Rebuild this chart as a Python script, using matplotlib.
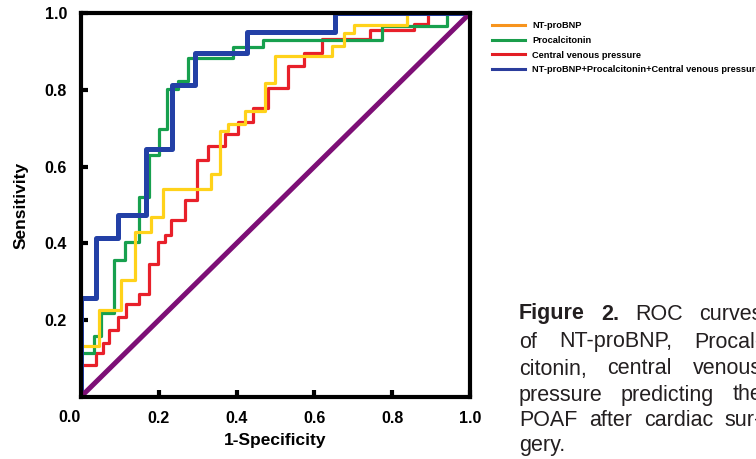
import matplotlib
matplotlib.use("Agg")
import matplotlib.pyplot as plt
from matplotlib.lines import Line2D

plt.rcParams['font.family'] = ['Liberation Sans', 'DejaVu Sans']

# ROC points (fpr, tpr after each step)
nt_fpr = [0, 0, 0.047, 0.103, 0.138, 0.181, 0.211, 0.335, 0.357, 0.378, 0.421, 0.473, 0.499, 0.645, 0.675, 0.701, 0.839, 1.0]
nt_tpr = [0, 0.133, 0.226, 0.304, 0.429, 0.468, 0.542, 0.581, 0.694, 0.710, 0.745, 0.819, 0.888, 0.914, 0.949, 0.970, 1.0, 1.0]

pct_fpr = [0, 0, 0.033, 0.052, 0.086, 0.112, 0.150, 0.176, 0.200, 0.222, 0.249, 0.275, 0.391, 0.469, 0.774, 0.942, 1.0]
pct_tpr = [0, 0.113, 0.157, 0.217, 0.356, 0.403, 0.520, 0.629, 0.698, 0.802, 0.823, 0.884, 0.912, 0.929, 0.966, 1.0, 1.0]

cvp_fpr = [0, 0, 0.039, 0.056, 0.073, 0.095, 0.116, 0.150, 0.176, 0.198, 0.215, 0.232, 0.267, 0.297, 0.327, 0.370,
           0.404, 0.443, 0.482, 0.531, 0.572, 0.619, 0.744, 0.856, 0.893, 1.0]
cvp_tpr = [0, 0.083, 0.113, 0.139, 0.174, 0.208, 0.243, 0.269, 0.347, 0.403, 0.421, 0.460, 0.512, 0.616, 0.655, 0.685,
           0.715, 0.754, 0.806, 0.862, 0.897, 0.934, 0.955, 0.972, 1.0, 1.0]

comb_fpr = [0, 0, 0.039, 0.095, 0.168, 0.234, 0.292, 0.426, 0.652, 1.0]
comb_tpr = [0, 0.257, 0.415, 0.475, 0.647, 0.813, 0.897, 0.951, 1.0, 1.0]

labels = ['NT-proBNP', 'Procalcitonin', 'Central venous pressure',
          'NT-proBNP+Procalcitonin+Central venous pressure']
legend_colors = ['#f7941d', '#1a9d4b', '#e31e24', '#2b3d9c']
ticks = [0.2, 0.4, 0.6, 0.8, 1.0]

caption = [
    [('Figure', 'bold'), ('2.', 'bold'), ('ROC', 'normal'), ('curves', 'normal')],
    [('of', 'normal'), ('NT-proBNP,', 'normal'), ('Procal-', 'normal')],
    [('citonin,', 'normal'), ('central', 'normal'), ('venous', 'normal')],
    [('pressure', 'normal'), ('predicting', 'normal'), ('the', 'normal')],
    [('POAF', 'normal'), ('after', 'normal'), ('cardiac', 'normal'), ('sur-', 'normal')],
    [('gery.', 'normal')],
]

fig = plt.figure(figsize=(7.56, 4.59), dpi=100)
ax = fig.add_axes([81/756, 1-396.7/459, 389/756, 383.5/459])

ax.step(cvp_fpr, cvp_tpr, where='post', color='#e8202a', lw=2.3)
ax.step(pct_fpr, pct_tpr, where='post', color='#17a04e', lw=2.3)
ax.step(nt_fpr, nt_tpr, where='post', color='#ffd21a', lw=2.3)
ax.step(comb_fpr, comb_tpr, where='post', color='#2340a6', lw=3.6)
ax.plot([0, 1], [0, 1], color='#7d0f76', lw=3.6, solid_capstyle='butt')

ax.set_xlim(0, 1)
ax.set_ylim(0, 1)
for s in ax.spines.values():
    s.set_linewidth(3)
ax.set_xticks(ticks)
ax.set_yticks(ticks)
ax.set_xticklabels([f'{t:.1f}' for t in ticks], fontweight='bold', fontsize=11.5)
ax.set_yticklabels([f'{t:.1f}' for t in ticks], fontweight='bold', fontsize=11.5)
ax.tick_params(axis='both', direction='in', length=5, width=3)
ax.tick_params(axis='x', pad=10)
ax.tick_params(axis='y', pad=10)
ax.annotate('0.0', xy=(0, 0), xytext=(-8.5, -15), textcoords='offset points',
            ha='center', va='center', fontsize=11.5, fontweight='bold')

ax.set_xlabel('1-Specificity', fontsize=12.5, fontweight='bold')
ax.set_ylabel('Sensitivity', fontsize=12.5, fontweight='bold')
ax.xaxis.set_label_coords(0.5, -0.095)
ax.yaxis.set_label_coords(-0.135, 0.5)

handles = [Line2D([], [], color=c, lw=2.2) for c in legend_colors]
fig.legend(handles, labels, loc='upper left', bbox_to_anchor=(492/756, 1-21/459),
           frameon=False, prop={'size': 6.7, 'weight': 'bold'}, handlelength=3.5,
           handletextpad=0.8, labelspacing=0.62, borderpad=0, borderaxespad=0)

# justified caption on the right
fig.canvas.draw()
renderer = fig.canvas.get_renderer()
x0, x1 = 519, 762
line_y = [314, 342, 369, 395, 420, 446]
for words, yc in zip(caption, line_y):
    texts = [fig.text(0, 1 - yc/459, w, fontsize=15.5, fontweight=wt, color='#231f20',
                      va='center', ha='left') for w, wt in words]
    widths = [t.get_window_extent(renderer).width for t in texts]
    if len(texts) > 1 and words is not caption[-1]:
        gap = (x1 - x0 - sum(widths)) / (len(texts) - 1)
    else:
        gap = 6
    x = x0
    for t, w in zip(texts, widths):
        t.set_x(x/756)
        x += w + gap

fig.savefig('out.png', dpi=100)
